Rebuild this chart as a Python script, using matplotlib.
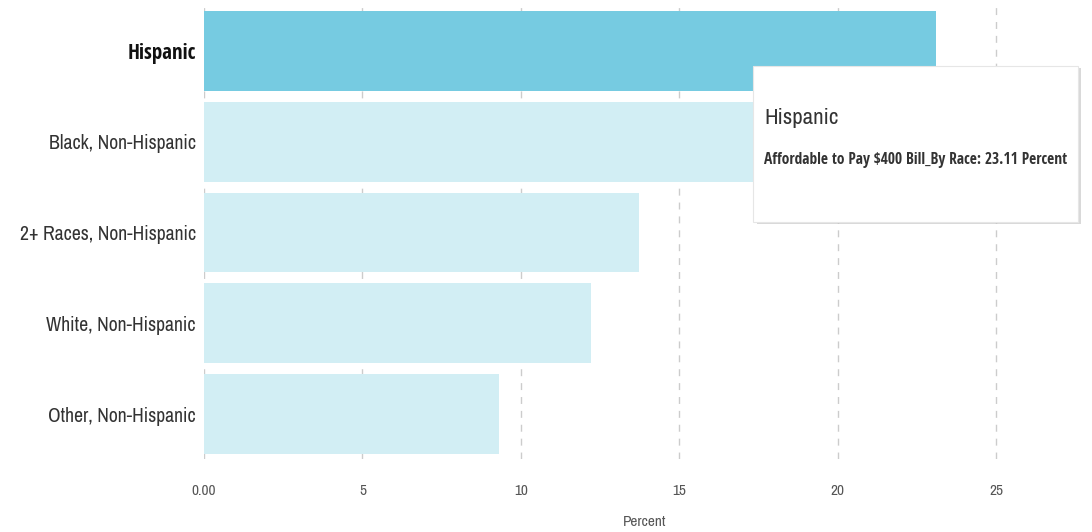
import matplotlib
matplotlib.use("Agg")
import matplotlib.pyplot as plt
from matplotlib import font_manager
from matplotlib.patches import FancyBboxPatch

# data
categories = ["Hispanic", "Black, Non-Hispanic", "2+ Races, Non-Hispanic",
              "White, Non-Hispanic", "Other, Non-Hispanic"]
values = [23.11, 19.6, 13.72, 12.21, 9.31]
xticks = [0, 5, 10, 15, 20, 25]
xtick_labels = ["0.00", "5", "10", "15", "20", "25"]
highlight = "Hispanic"
tooltip_title = "Hispanic"
tooltip_text = "Affordable to Pay $400 Bill_By Race: 23.11 Percent"


def wnum(w):
    if isinstance(w, int):
        return w
    return {"light": 300, "normal": 400, "regular": 400, "book": 400,
            "medium": 500, "semibold": 600, "demibold": 600, "bold": 700,
            "heavy": 800, "extra bold": 800, "black": 900}.get(str(w).lower(), 400)


# look for narrow faces: a light/regular one and a plain bold one
entries = font_manager.fontManager.ttflist
narrow = [f for f in entries
          if ("Condensed" in f.name or "Narrow" in f.name) and f.style == "normal"]


def pick(target):
    if not narrow:
        return None
    ranked = sorted(narrow, key=lambda f: (abs(wnum(f.weight) - target),
                                           "Open Sans" not in f.name))
    return font_manager.FontProperties(fname=ranked[0].fname)


reg_font = pick(350) or font_manager.FontProperties(family="Open Sans", weight="light")
bold_font = pick(700) or font_manager.FontProperties(family="Open Sans", weight="bold")


def fp(base, size):
    p = base.copy()
    p.set_size(size)
    return p


fig = plt.figure(figsize=(10.92, 5.32), dpi=100)
ax = fig.add_axes([0.1868, 0.1365, 0.8068, 0.853])

ypos = list(range(len(categories)))
colors = ["#76cbe1" if c == highlight else "#d2eef4" for c in categories]
ax.barh(ypos, values, height=0.88, color=colors, zorder=2)

ax.set_xlim(0, 27.8)
ax.set_ylim(len(categories) - 0.5, -0.5)
ax.set_xticks(xticks)
ax.set_xticklabels(xtick_labels, color="#555555", fontproperties=fp(reg_font, 11))
ax.set_yticks(ypos)
ax.set_yticklabels(categories, color="#333333", fontproperties=fp(reg_font, 14.2))
for lbl in ax.get_yticklabels():
    if lbl.get_text() == highlight:
        lbl.set_fontproperties(fp(bold_font, 15))
        lbl.set_color("#111111")
ax.tick_params(axis="both", length=0)
ax.tick_params(axis="x", pad=18)
ax.tick_params(axis="y", pad=6)
for s in ax.spines.values():
    s.set_visible(False)
ax.grid(axis="x", color="#cccccc", linestyle=(0, (5, 5)), linewidth=1, zorder=1)
ax.set_xlabel("Percent", color="#555555", labelpad=12,
              fontproperties=fp(reg_font, 11))

# tooltip
shadow = FancyBboxPatch((0.693, 0.579), 0.297, 0.293, boxstyle="square,pad=0",
                        transform=fig.transFigure, facecolor="#00000026",
                        edgecolor="none", zorder=5)
box = FancyBboxPatch((0.690, 0.5825), 0.297, 0.293, boxstyle="square,pad=0",
                     transform=fig.transFigure, facecolor="white",
                     edgecolor="#e6e6e6", linewidth=0.8, zorder=6)
fig.patches.extend([shadow, box])
fig.text(0.700, 0.778, tooltip_title, color="#333333",
         va="center", ha="left", zorder=7, fontproperties=fp(reg_font, 16.5))
fig.text(0.700, 0.700, tooltip_text, color="#333333", va="center", ha="left",
         zorder=7, fontproperties=fp(bold_font, 11.2))

fig.savefig("out.png", dpi=100)
